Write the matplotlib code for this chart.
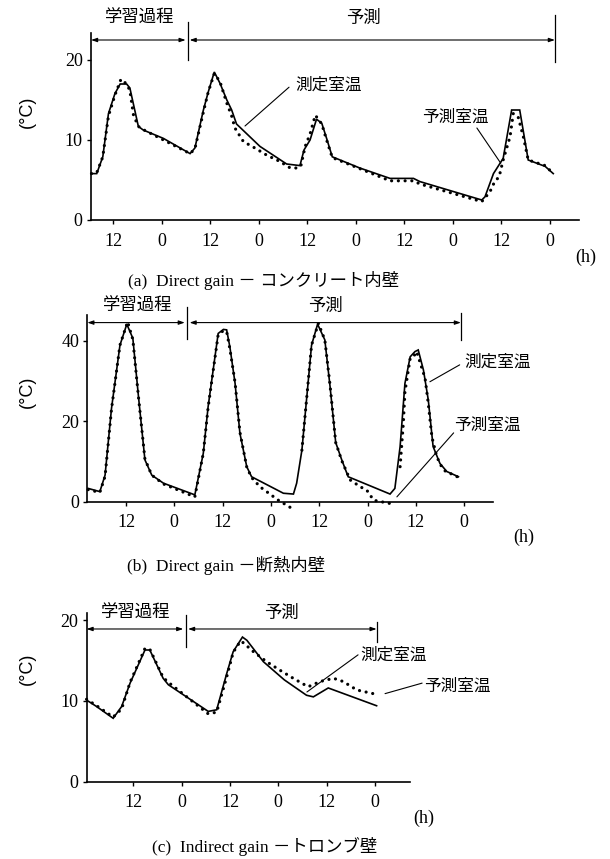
"""Measured vs predicted room temperature, three passive-solar cases."""

import numpy as np
import matplotlib

matplotlib.use("Agg")
import matplotlib.pyplot as plt

W, H = 610, 859
nan = np.nan

# (a) Direct gain - concrete inner wall
A_MEAS_T = [6.6, 7.9, 9.4, 10.8, 12.4, 13.7, 15.3, 16.1, 18.2, 19.4, 24.4, 31.0, 32.2,
            34.3, 35.5, 37.0, 38.4, 40.1, 41.3, 42.5, 48.3, 54.9, 58.2, 59.2, 60.7,
            62.3, 63.6, 64.8, 66.2, 73.0, 80.5, 86.3, 87.9, 103.2, 104.0, 106.1,
            108.5, 110.6, 112.6, 114.7, 118.9, 120.9]
A_MEAS_V = [5.8, 5.8, 7.9, 13.3, 15.8, 17.0, 17.0, 16.5, 11.7, 11.25, 10.2, 8.3, 9.0,
            13.75, 16.0, 18.5, 17.1, 15.0, 13.75, 12.0, 9.2, 7.0, 6.8, 8.75, 10.0,
            12.6, 12.1, 10.2, 7.9, 6.5, 5.2, 5.2, 4.8, 2.5, 2.9, 5.8,
            7.7, 13.75, 13.75, 7.5, 6.7, 5.8]
A_PRED_T = [6.6, 7.9, 9.4, 10.8, 12.4, 13.9, 15.3, 16.1, 17.0, 18.2, 19.4, 31.0, 32.2,
            34.3, 35.5, 37.0, 38.4, 40.1, 41.3, 42.1, 44.2, 46.7, 50.0, 53.3, 55.8,
            57.4, 58.4, 59.5, 60.7, 62.0, 63.6, 64.8, 66.2, 80.5, 86.3, 87.9, 103.2,
            105.2, 106.4, 107.5, 108.5, 110.2, 111.0, 112.2, 113.5, 114.7, 118.9, 120.9]
A_PRED_V = [5.8, 5.9, 7.9, 13.0, 15.6, 17.6, 17.0, 16.2, 13.1, 11.7, 11.3, 8.3, 8.9,
            13.5, 16.0, 18.3, 17.3, 14.6, 13.0, 11.5, 9.8, 9.1, 8.1, 7.3, 6.5,
            6.5, 6.7, 9.2, 10.75, 13.1, 12.0, 10.0, 7.8, 4.9, 4.9, 4.5, 2.3,
            3.5, 4.8, 5.4, 7.5, 10.4, 13.3, 12.9, 10.4, 7.5, 6.8, 5.8]
A_TICKS = [12, 24, 36, 48, 60, 72, 84, 96, 108, 120]
A_TICK_LABELS = ["12", "0", "12", "0", "12", "0", "12", "0", "12", "0"]
A_YTICKS = [0, 10, 20]

# (b) Direct gain - insulated inner wall
B_MEAS_T = [2.6, 5.5, 6.8, 8.4, 10.5, 12.2, 13.7, 15.1, 16.7, 18.4, 21.3, 29.1, 31.2,
            32.4, 34.9, 36.2, 37.0, 37.8, 39.1, 40.3, 42.0, 43.2, 51.1, 53.6, 54.4,
            55.7, 58.1, 59.6, 61.4, 62.7, 64.1, 65.6, 67.2, 77.6, 78.8, 80.1, 81.3,
            82.6, 83.8, 84.6, 85.9, 87.1, 88.3, 90.0, 91.7, 94.6]
B_MEAS_V = [3.3, 2.5, 6.6, 23.2, 38.9, 44.1, 40.6, 26.1, 10.4, 6.6, 4.6, 1.7, 12.0,
            23.6, 41.8, 42.8, 42.7, 38.5, 29.4, 17.0, 8.7, 6.2, 2.1, 1.9, 4.6,
            12.8, 38.9, 44.1, 40.2, 28.6, 14.7, 10.4, 6.2, 1.9, 3.3, 13.7, 29.4,
            36.0, 37.3, 37.7, 32.7, 25.3, 13.7, 9.5, 7.5, 6.2]
B_PRED_T = [2.6, 5.5, 6.8, 8.4, 10.5, 12.4, 13.7, 15.1, 16.7, 18.4, 21.3, 29.1, 31.2,
            32.4, 34.9, 36.2, 37.0, 37.8, 39.1, 40.3, 42.0, 43.2, 45.3, 49.8, 53.6,
            nan, 55.7, 58.1, 59.8, 61.4, 62.7, 64.1, 65.6, 67.7, 68.9, 70.2, 71.8,
            73.5, 75.1, 76.8, 78.0, nan, 80.1, 80.9, 81.3, 82.6, 83.4, 84.2, 86.3,
            87.1, 88.0, 89.2, 90.5, 91.7, 93.3, 94.6]
B_PRED_V = [3.0, 2.3, 6.3, 23.0, 38.9, 44.7, 40.3, 26.0, 10.6, 6.6, 4.4, 1.2, 12.0,
            23.4, 41.5, 42.5, 42.3, 38.0, 29.6, 17.3, 8.6, 6.0, 3.7, 0.4, -1.9,
            nan, 12.8, 38.9, 44.3, 40.2, 28.9, 14.7, 10.2, 5.4, 4.6, 3.7, 2.9,
            0.4, 0.0, -0.2, -0.6, nan, 8.7, 19.5, 27.3, 35.6, 36.0, 37.3, 30.7,
            24.4, 16.1, 11.2, 8.5, 7.2, 6.8, 6.0]
B_TICKS = [12, 24, 36, 48, 60, 72, 84, 96]
B_TICK_LABELS = ["12", "0", "12", "0", "12", "0", "12", "0"]
B_YTICKS = [0, 20, 40]

# (c) Indirect gain - Trombe wall
C_MEAS_T = [0.4, 2.9, 7.0, 9.1, 11.2, 14.9, 16.1, 19.4, 20.7, 30.6, 32.7, 35.2, 36.8,
            39.1, 40.2, 44.3, 49.5, 55.0, 56.7, 60.4, 72.4]
C_MEAS_V = [10.1, 9.3, 7.85, 9.3, 12.2, 16.3, 16.3, 12.8, 12.0, 8.7, 8.9, 13.4, 16.1,
            17.9, 17.5, 14.85, 12.6, 10.7, 10.5, 11.6, 9.4]
C_PRED_T = [0.4, 2.9, 7.0, 9.1, 11.2, 14.9, 16.1, 19.4, 20.7, 30.6, 32.7, 35.2, 36.8,
            38.6, 39.3, 41.8, 45.1, 48.4, 51.7, 55.4, 58.4, 61.7, 64.1, 67.5, 72.0]
C_PRED_V = [10.2, 9.4, 8.0, 9.0, 12.3, 16.5, 16.4, 12.9, 12.3, 8.4, 8.6, 13.0, 16.0,
            17.4, 17.2, 16.1, 14.85, 13.8, 12.8, 11.75, 12.4, 12.8, 12.4, 11.35, 10.85]
C_TICKS = [12, 24, 36, 48, 60, 72]
C_TICK_LABELS = ["12", "0", "12", "0", "12", "0"]
C_YTICKS = [0, 10, 20]

LEARN = "学習過程"
PREDICT = "予測"
MEAS_LABEL = "測定室温"
PRED_LABEL = "予測室温"
CAPTIONS = [
    "(a)  Direct gain － コンクリート内壁",
    "(b)  Direct gain －断熱内壁",
    "(c)  Indirect gain －トロンブ壁",
]

SERIF = ["Liberation Serif", "Noto Sans CJK JP"]
JP = ["Noto Sans CJK JP", "DejaVu Sans"]


def _axes(fig, cal, xlim, ylim):
    # cal: pixel x of reference hour, hour, px/hour, pixel y of 0, px/degree
    xa, ta, kx, ya, ky = cal
    left = xa + (xlim[0] - ta) * kx
    right = xa + (xlim[1] - ta) * kx
    top = ya - ylim[1] * ky
    bottom = ya - ylim[0] * ky
    ax = fig.add_axes([left / W, 1 - bottom / H, (right - left) / W, (bottom - top) / H])
    ax.set_xlim(*xlim)
    ax.set_ylim(*ylim)
    ax.patch.set_alpha(0)
    for side in ("top", "right"):
        ax.spines[side].set_visible(False)
    ax.spines["bottom"].set_position(("data", 0))
    ax.spines["left"].set_bounds(0, ylim[1])
    for side in ("bottom", "left"):
        ax.spines[side].set_linewidth(1.2)
    ax.tick_params(direction="out", length=3, width=1.0, labelsize=13)
    ax.tick_params(axis="x", pad=6)
    ax.tick_params(axis="y", pad=3)
    return ax


def _series(ax, mt, mv, pt, pv):
    ax.plot(mt, mv, color="black", lw=1.2, solid_joinstyle="miter", zorder=3)
    ax.plot(pt, pv, color="black", lw=2.3, linestyle=(0, (0.01, 2.1)),
            dash_capstyle="round", zorder=4, clip_on=False)


def _span(ax, t0, t1, y):
    ax.annotate("", xy=(t1, y), xytext=(t0, y), annotation_clip=False,
                arrowprops=dict(arrowstyle="<|-|>,head_length=0.35,head_width=0.12",
                                lw=0.8, color="black", shrinkA=0, shrinkB=0))


def _vline(ax, t, y0, y1):
    ax.plot([t, t], [y0, y1], color="black", lw=0.9, clip_on=False)


def _header(ax, t_start, t_div, t_end, y_line, y_text, div_rng, end_rng, gap, t_pred_text):
    _span(ax, t_start, t_div - gap, y_line)
    _span(ax, t_div + gap, t_end, y_line)
    _vline(ax, t_div, *div_rng)
    _vline(ax, t_end, *end_rng)
    ax.text((t_start + t_div) / 2, y_text, LEARN, family=JP, fontsize=12.5,
            ha="center", va="center")
    ax.text(t_pred_text, y_text, PREDICT, family=JP, fontsize=12.5,
            ha="center", va="center")


def _callout(ax, text, xy_text, xy_from, xy_to):
    ax.text(*xy_text, text, family=JP, fontsize=12, ha="center", va="center")
    ax.annotate("", xy=xy_to, xytext=xy_from, annotation_clip=False,
                arrowprops=dict(arrowstyle="-", lw=0.8, color="black",
                                shrinkA=0, shrinkB=0))


def _ticks(ax, xt, xl, yt):
    ax.set_xticks(xt)
    ax.set_xticklabels(xl, family=SERIF, fontsize=13)
    ax.set_yticks(yt)
    ax.set_yticklabels([str(v) for v in yt], family=SERIF, fontsize=13)


def _fig_text(fig, x, y, s, **kw):
    fig.text(x / W, 1 - y / H, s, **kw)


def main():
    fig = plt.figure(figsize=(W / 100, H / 100), dpi=100)
    fig.patch.set_facecolor("white")

    # (a)
    ax = _axes(fig, (113.3, 12, 4.04, 220, 8.0), (6.5, 127.2), (-0.6, 23.4))
    _ticks(ax, A_TICKS, A_TICK_LABELS, A_YTICKS)
    _series(ax, A_MEAS_T, A_MEAS_V, A_PRED_T, A_PRED_V)
    _header(ax, 6.5, 30.4, 121.3, 22.5, 25.3, (20.0, 24.8), (19.8, 25.6), 0.5, 73.8)
    _callout(ax, MEAS_LABEL, (65.2, 16.9), (55.5, 16.6), (44.6, 11.75))
    _callout(ax, PRED_LABEL, (96.6, 12.9), (102.0, 11.5), (107.9, 7.1))

    # (b)
    ax = _axes(fig, (126.0, 12, 4.025, 501.7, 4.025), (2.4, 103.2), (-3.0, 46.3))
    _ticks(ax, B_TICKS, B_TICK_LABELS, B_YTICKS)
    _series(ax, B_MEAS_T, B_MEAS_V, B_PRED_T, B_PRED_V)
    _header(ax, 2.4, 27.2, 95.2, 44.5, 48.6, (40.4, 48.4), (40.2, 46.9), 0.6, 61.5)
    _callout(ax, MEAS_LABEL, (104.2, 34.7), (94.9, 34.0), (87.5, 29.8))
    _callout(ax, PRED_LABEL, (101.7, 19.1), (93.4, 17.1), (79.3, 1.2))

    # (c)
    ax = _axes(fig, (133.3, 12, 4.028, 781.7, 8.08), (0.4, 80.8), (-0.5, 20.9))
    _ticks(ax, C_TICKS, C_TICK_LABELS, C_YTICKS)
    _series(ax, C_MEAS_T, C_MEAS_V, C_PRED_T, C_PRED_V)
    _header(ax, 0.4, 25.0, 72.4, 18.9, 20.9, (16.7, 20.6), (17.3, 19.8), 0.6, 48.8)
    _callout(ax, MEAS_LABEL, (76.5, 15.7), (67.8, 15.7), (55.1, 11.1))
    _callout(ax, PRED_LABEL, (92.5, 11.8), (83.7, 12.2), (74.5, 10.9))

    # y labels, unit, captions
    for y in (112, 392, 669):
        _fig_text(fig, 27, y, "(°C)", family=["Liberation Sans", "DejaVu Sans"],
                  fontsize=13, rotation=90, ha="center", va="center")
    for x, y in ((586, 257), (524, 537), (424, 818)):
        _fig_text(fig, x, y, "(h)", family=SERIF, fontsize=13, ha="center", va="center")
    for x, y, s in zip((128, 127, 152), (281, 565, 846), CAPTIONS):
        _fig_text(fig, x, y, s, family=SERIF, fontsize=12.5, ha="left", va="center")

    fig.savefig("out.png", dpi=100, facecolor="white")
    plt.close(fig)


if __name__ == "__main__":
    main()
